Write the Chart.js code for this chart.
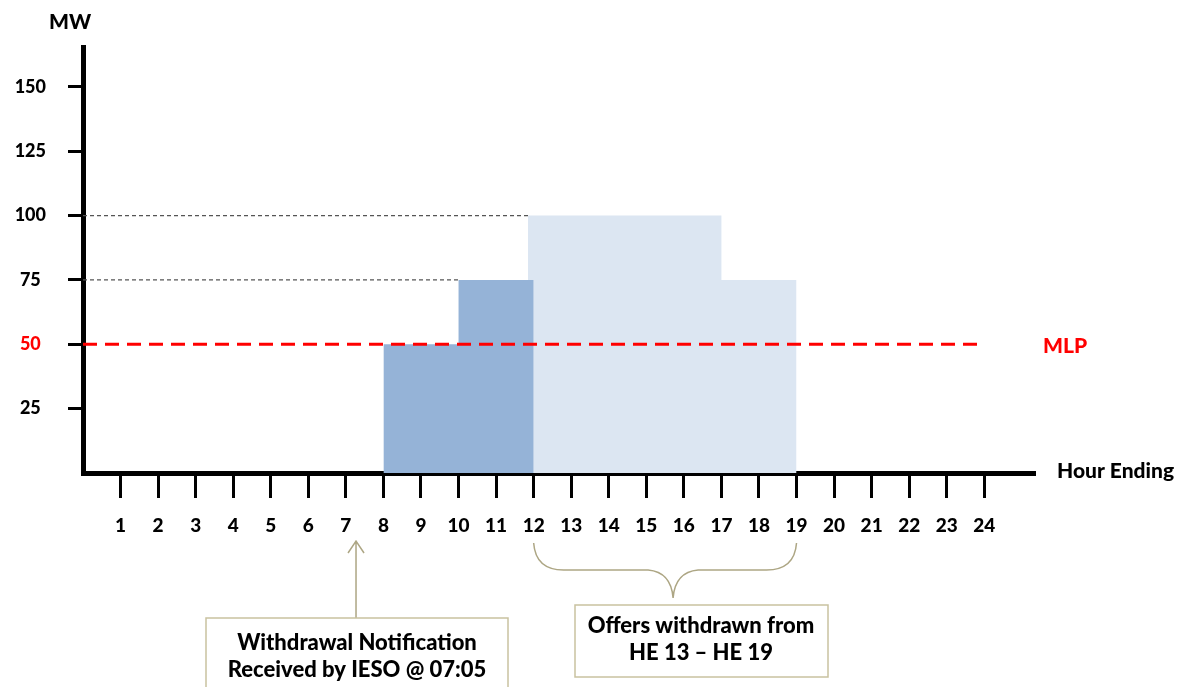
<!DOCTYPE html>
<html>
<head>
<meta charset="utf-8">
<script src="https://cdn.jsdelivr.net/npm/chart.js@4.4.1/dist/chart.umd.min.js"></script>
<style>
  html, body { margin: 0; padding: 0; background: #fff; }
  #wrap { width: 1185px; height: 687px; }
</style>
</head>
<body>
<div id="wrap"><canvas id="myChart"></canvas></div>
<script>
// hours on the x axis, MW on the y axis
const hours = [1, 2, 3, 4, 5, 6, 7, 8, 9, 10, 11, 12, 13, 14, 15, 16, 17, 18, 19, 20, 21, 22, 23, 24];
const yTicks = [25, 50, 75, 100, 125, 150];

// offered MW (step edges, hour ending)
const keptHours = [8, 10, 12];
const keptMW = [50, 75, 75];
const withdrawnHours = [11.85, 17, 19];
const withdrawnMW = [100, 75, 75];

// minimum loading point
const mlpValue = 50;
const mlpHours = [0, 24];

// dotted guide lines: [value, end hour]
const guide100 = [100, 11.85];
const guide75 = [75, 10];

const FONT = 'Lato, "Liberation Sans", sans-serif';
const KHAKI = '#ADA684';

function toPoints(xs, ys) {
    return xs.map((x, i) => ({ x: x, y: ys[i] }));
}

const data = {
    datasets: [
        {
            label: 'MLP',
            data: mlpHours.map(h => ({ x: h, y: mlpValue })),
            borderColor: '#FF0000',
            borderWidth: 3,
            borderDash: [14, 8],
            pointRadius: 0,
            fill: false,
            order: 0
        },
        {
            label: 'Offered',
            data: toPoints(keptHours, keptMW),
            stepped: 'before',
            fill: 'origin',
            backgroundColor: '#95B3D7',
            borderWidth: 0,
            pointRadius: 0,
            order: 1
        },
        {
            label: 'Withdrawn',
            data: toPoints(withdrawnHours, withdrawnMW),
            stepped: 'before',
            fill: 'origin',
            backgroundColor: '#DCE6F2',
            borderWidth: 0,
            pointRadius: 0,
            order: 2
        },
        {
            label: 'g100',
            data: [{ x: 0, y: guide100[0] }, { x: guide100[1], y: guide100[0] }],
            borderColor: '#555',
            borderWidth: 1.2,
            borderDash: [4, 3],
            pointRadius: 0,
            fill: false,
            order: 3
        },
        {
            label: 'g75',
            data: [{ x: 0, y: guide75[0] }, { x: guide75[1], y: guide75[0] }],
            borderColor: '#555',
            borderWidth: 1.2,
            borderDash: [4, 3],
            pointRadius: 0,
            fill: false,
            order: 3
        }
    ]
};

// texts, arrow, brace and boxes
const notes = {
    id: 'notes',
    afterDraw(chart) {
        const ctx = chart.ctx;
        const area = chart.chartArea;
        const xs = chart.scales.x;
        const ys = chart.scales.y;
        ctx.save();
        ctx.font = '900 21px ' + FONT;
        ctx.textBaseline = 'middle';

        ctx.fillStyle = '#000';
        ctx.textAlign = 'center';
        ctx.fillText('MW', 70, 22);

        ctx.textAlign = 'left';
        ctx.fillText('Hour Ending', area.right + 22, area.bottom - 2);
        ctx.fillStyle = '#FF0000';
        ctx.fillText('MLP', area.right + 8, ys.getPixelForValue(mlpValue) + 2);

        // arrow to the notification time
        const ax = xs.getPixelForValue(7.27);
        ctx.strokeStyle = KHAKI;
        ctx.lineWidth = 1.5;
        ctx.beginPath();
        ctx.moveTo(ax, 618);
        ctx.lineTo(ax, 541);
        ctx.moveTo(ax - 8, 553);
        ctx.lineTo(ax, 541);
        ctx.lineTo(ax + 8, 553);
        ctx.stroke();

        // box 1
        ctx.font = '900 22px ' + FONT;
        ctx.strokeStyle = '#C9C2A0';
        ctx.strokeRect(206, 618, 302, 90);
        ctx.fillStyle = '#000';
        ctx.textAlign = 'center';
        ctx.fillText('Withdrawal Notification', 357, 643);
        ctx.fillText('Received by IESO @ 07:05', 357, 670);

        // brace under HE 12..19
        const bl = xs.getPixelForValue(12);
        const br = xs.getPixelForValue(19);
        const bm = (bl + br) / 2 + 8;
        ctx.strokeStyle = KHAKI;
        ctx.beginPath();
        ctx.moveTo(bl, 543);
        ctx.quadraticCurveTo(bl + 2, 570, bl + 30, 570);
        ctx.lineTo(bm - 25, 570);
        ctx.quadraticCurveTo(bm - 2, 572, bm, 598);
        ctx.quadraticCurveTo(bm + 2, 572, bm + 25, 570);
        ctx.lineTo(br - 30, 570);
        ctx.quadraticCurveTo(br - 2, 570, br, 543);
        ctx.stroke();

        // box 2
        ctx.strokeStyle = '#C9C2A0';
        ctx.strokeRect(575, 605, 253, 72);
        ctx.fillStyle = '#000';
        ctx.fillText('Offers withdrawn from', 701, 626);
        ctx.fillText('HE 13 \u2013 HE 19', 701, 653);
        ctx.restore();
    }
};

const config = {
    type: 'line',
    data: data,
    options: {
        responsive: true,
        maintainAspectRatio: false,
        animation: false,
        layout: { padding: { top: 47, right: 150, left: 0, bottom: 0 } },
        plugins: {
            legend: { display: false },
            tooltip: { enabled: false },
            filler: { drawTime: 'beforeDatasetDraw' }
        },
        scales: {
            x: {
                type: 'linear',
                min: 0,
                max: 25.35,
                afterBuildTicks: (scale) => {
                    scale.ticks = hours.map(h => ({ value: h }));
                },
                afterFit: (scale) => { scale.height = 214; },
                grid: {
                    drawOnChartArea: false,
                    drawTicks: true,
                    tickLength: 25,
                    tickWidth: 3,
                    tickColor: '#000'
                },
                border: { display: true, color: '#000', width: 5 },
                ticks: {
                    autoSkip: false,
                    maxRotation: 0,
                    padding: 16,
                    color: '#000',
                    font: { family: FONT, size: 19, weight: '900' }
                }
            },
            y: {
                min: 0,
                max: 165.5,
                afterBuildTicks: (scale) => {
                    scale.ticks = yTicks.map(v => ({ value: v }));
                },
                afterFit: (scale) => { scale.width = 83; },
                grid: {
                    drawOnChartArea: false,
                    drawTicks: true,
                    tickLength: 15,
                    tickWidth: 3,
                    tickColor: '#000'
                },
                border: { display: true, color: '#000', width: 5 },
                ticks: {
                    crossAlign: 'center',
                    padding: 22,
                    color: (c) => (c.tick && c.tick.value === mlpValue ? '#FF0000' : '#000'),
                    font: { family: FONT, size: 18, weight: '900' }
                }
            }
        }
    },
    plugins: [notes]
};

const myChart = new Chart(document.getElementById('myChart'), config);
</script>
</body>
</html>
